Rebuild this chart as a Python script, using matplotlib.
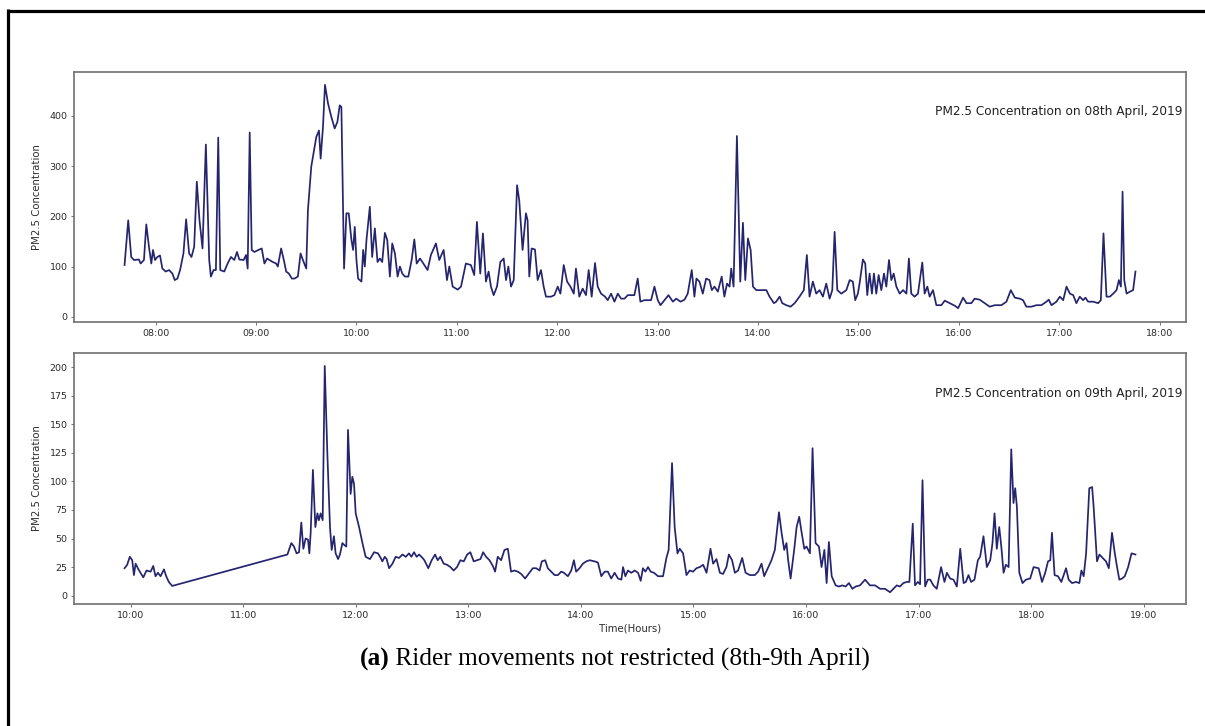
import numpy as np
import pandas as pd
import matplotlib
matplotlib.use("Agg")
import matplotlib.pyplot as plt
import matplotlib.dates as mdates
from matplotlib.lines import Line2D

# PM2.5 readings, 8th April 2019 (time in minutes after midnight)
t08_min = [
    461.4, 463.6, 465.4, 467.0, 470.0, 471.0, 473.0, 474.4, 476.0, 477.4, 478.4, 479.6,
    481.0, 482.6, 484.0, 486.0, 488.0, 490.0, 491.4, 493.0, 494.6, 496.6, 498.2, 500.0,
    501.4, 503.0, 504.6, 506.2, 508.0, 510.0, 512.0, 513.0, 514.6, 516.0, 517.4, 518.6,
    521.0, 523.0, 525.0, 527.0, 528.6, 530.0, 532.6, 534.0, 535.0, 536.2, 537.4, 539.0,
    541.4, 543.4, 545.0, 546.6, 548.0, 550.0, 552.0, 553.0, 555.0, 556.6, 558.0, 559.6,
    561.4, 563.0, 565.0, 566.6, 568.0, 570.0, 571.0, 573.0, 576.0, 577.6, 578.6, 580.0,
    581.2, 583.0, 585.0, 587.0, 588.6, 590.0, 591.0, 592.6, 594.0, 595.4, 597.0, 598.0,
    599.0, 600.0, 601.0, 603.0, 604.0, 605.0, 606.0, 608.0, 609.4, 611.0, 612.6, 614.0,
    615.4, 617.0, 618.4, 620.0, 621.4, 623.0, 624.6, 626.0, 627.4, 629.0, 631.0, 633.0,
    634.6, 636.0, 638.0, 640.0, 642.5, 644.5, 647.5, 649.5, 652.1, 654.1, 655.5, 657.5,
    660.5, 662.5, 665.4, 668.4, 670.4, 672.0, 674.0, 675.6, 677.4, 679.0, 680.4, 682.0,
    684.0, 686.0, 688.0, 689.4, 690.8, 692.4, 694.0, 696.0, 697.3, 699.3, 701.3, 702.3,
    703.3, 704.7, 706.7, 708.3, 710.3, 711.9, 713.3, 716.3, 718.3, 720.3, 721.9, 723.9,
    725.9, 727.9, 729.9, 731.2, 733.2, 735.2, 737.2, 738.8, 740.6, 742.6, 744.2, 746.2,
    748.6, 750.2, 752.2, 754.2, 756.2, 758.2, 760.2, 762.2, 766.1, 768.1, 769.7, 772.1,
    776.1, 778.1, 780.1, 781.7, 784.1, 786.5, 789.1, 791.1, 793.7, 796.1, 798.0, 800.4,
    802.0, 803.2, 805.0, 807.0, 809.0, 811.0, 812.4, 814.0, 816.0, 818.3, 819.9, 821.5,
    823.0, 824.0, 825.4, 827.4, 829.4, 831.0, 832.4, 834.0, 835.6, 837.0, 839.0, 842.0,
    845.0, 846.9, 849.5, 850.9, 852.9, 854.5, 856.9, 859.5, 861.9, 864.8, 867.4, 869.2,
    870.8, 872.8, 874.8, 876.8, 878.8, 880.8, 882.8, 884.4, 885.8, 887.4, 889.8, 892.8,
    894.8, 896.7, 898.1, 899.7, 900.7, 902.7, 904.1, 905.3, 906.7, 908.1, 909.3, 910.7,
    912.1, 913.7, 915.3, 916.7, 918.3, 919.7, 921.1, 922.7, 924.7, 926.7, 928.7, 930.2,
    931.6, 933.6, 935.6, 938.2, 939.6, 941.2, 942.6, 944.6, 946.6, 949.6, 951.6, 954.6,
    957.6, 959.6, 962.6, 964.6, 967.5, 969.5, 972.5, 975.5, 978.5, 981.5, 985.5, 988.5,
    991.1, 993.5, 996.5, 998.4, 1000.4, 1003.4, 1006.4, 1009.4, 1012.4, 1013.8, 1015.4, 1018.4,
    1020.4, 1022.4, 1024.4, 1026.4, 1028.4, 1030.3, 1032.3, 1034.3, 1035.7, 1037.3, 1040.3, 1043.3,
    1044.9, 1046.5, 1048.3, 1050.3, 1052.3, 1054.3, 1055.7, 1056.9, 1057.9, 1058.9, 1060.3, 1062.3,
    1064.2, 1065.6,
]
pm_08 = [
    103, 192, 119, 113, 114, 106, 113, 184, 139, 106, 133, 113,
    119, 122, 96, 90, 93, 86, 73, 76, 93, 126, 194, 126,
    119, 139, 269, 192, 136, 343, 113, 80, 93, 93, 357, 93,
    90, 106, 119, 113, 129, 114, 113, 123, 96, 367, 133, 129,
    133, 136, 106, 116, 113, 109, 106, 100, 136, 113, 90, 86,
    76, 76, 80, 126, 113, 96, 212, 299, 358, 371, 315, 378,
    462, 425, 398, 375, 388, 421, 418, 96, 206, 206, 153, 133,
    179, 113, 76, 70, 133, 100, 153, 219, 119, 176, 109, 116,
    109, 167, 153, 80, 146, 126, 80, 100, 86, 80, 80, 113,
    154, 106, 116, 106, 93, 123, 146, 113, 133, 73, 100, 60,
    54, 60, 106, 103, 83, 189, 86, 166, 70, 90, 60, 43,
    60, 109, 116, 73, 100, 60, 73, 262, 232, 133, 206, 192,
    80, 136, 134, 73, 93, 60, 40, 40, 43, 60, 46, 103,
    70, 60, 46, 96, 40, 56, 43, 93, 40, 107, 60, 46,
    40, 33, 46, 30, 46, 36, 36, 43, 43, 76, 30, 33,
    33, 60, 33, 23, 33, 43, 30, 36, 30, 34, 46, 93,
    40, 76, 70, 46, 76, 73, 53, 60, 50, 80, 40, 66,
    60, 96, 60, 360, 70, 187, 73, 156, 133, 60, 53, 53,
    53, 40, 27, 30, 40, 27, 23, 20, 27, 40, 53, 123,
    40, 70, 46, 53, 40, 66, 36, 53, 169, 53, 46, 53,
    73, 70, 33, 46, 66, 114, 106, 43, 86, 46, 86, 46,
    83, 53, 86, 60, 113, 73, 86, 60, 46, 53, 46, 116,
    46, 40, 46, 108, 46, 60, 40, 53, 23, 23, 32, 27,
    22, 17, 38, 27, 27, 36, 34, 27, 20, 23, 23, 30,
    53, 38, 36, 33, 20, 20, 23, 23, 30, 34, 23, 30,
    40, 33, 60, 46, 43, 27, 40, 33, 38, 30, 30, 27,
    33, 166, 40, 40, 46, 53, 73, 60, 249, 73, 46, 50,
    53, 90,
]

# PM2.5 readings, 9th April 2019 (time in minutes after midnight)
t09_min = [
    596.8, 598.2, 599.6, 600.9, 601.8, 602.7, 603.9, 605.3, 606.8, 608.5, 610.7, 612.1,
    613.3, 614.6, 616.0, 617.8, 619.0, 620.4, 622.2, 683.6, 685.7, 687.1, 688.5, 689.8,
    691.0, 692.1, 693.3, 694.6, 695.3, 696.0, 697.2, 698.5, 699.6, 700.4, 701.3, 702.4,
    703.5, 704.9, 706.3, 707.2, 708.4, 709.3, 710.6, 711.6, 712.9, 714.1, 715.0, 715.9,
    717.3, 718.2, 719.1, 720.0, 721.8, 723.6, 725.3, 727.6, 729.8, 731.9, 733.3, 734.2,
    735.5, 736.5, 737.8, 739.6, 741.3, 743.1, 744.9, 746.7, 748.4, 749.7, 751.1, 752.5,
    753.8, 755.6, 756.6, 758.7, 760.5, 762.3, 763.7, 765.1, 766.9, 768.7, 770.5, 772.2,
    774.0, 775.8, 777.6, 779.4, 781.1, 782.9, 784.7, 786.5, 787.9, 789.5, 791.3, 793.1,
    794.3, 795.7, 797.5, 799.3, 801.1, 802.8, 804.6, 806.4, 808.2, 810.3, 812.6, 814.4,
    816.2, 818.0, 819.2, 821.0, 822.4, 824.2, 826.0, 827.8, 829.5, 831.0, 833.1, 834.9,
    836.3, 837.5, 839.3, 841.1, 842.9, 844.7, 847.3, 849.1, 850.9, 852.7, 854.4, 856.2,
    858.0, 859.8, 861.6, 862.5, 863.7, 865.1, 866.9, 868.7, 870.5, 871.9, 873.1, 874.4,
    875.8, 877.2, 879.0, 881.1, 883.8, 885.6, 886.8, 888.6, 890.0, 891.5, 892.7, 894.5,
    896.3, 898.0, 899.8, 901.6, 903.4, 905.2, 907.0, 909.1, 910.5, 912.3, 914.1, 915.8,
    917.6, 918.9, 920.6, 922.1, 923.8, 926.0, 927.8, 930.1, 932.7, 934.5, 936.3, 937.7,
    939.9, 941.6, 943.4, 945.6, 947.0, 948.4, 949.6, 950.5, 951.8, 953.7, 955.0, 956.4,
    957.7, 959.1, 960.3, 962.1, 963.5, 965.1, 966.9, 968.3, 969.8, 971.0, 972.2, 973.7,
    975.8, 977.6, 979.4, 981.1, 982.9, 984.7, 986.5, 988.8, 991.5, 994.1, 996.8, 999.5,
    1002.1, 1004.8, 1006.6, 1008.4, 1010.1, 1011.9, 1013.7, 1015.1, 1016.9, 1018.1, 1019.6, 1020.8,
    1022.1, 1023.5, 1024.9, 1026.2, 1027.9, 1029.7, 1032.0, 1033.8, 1035.1, 1036.8, 1038.6, 1040.4,
    1042.2, 1044.0, 1045.2, 1046.6, 1048.0, 1049.8, 1051.6, 1052.8, 1054.6, 1056.4, 1058.2, 1059.4,
    1060.5, 1061.7, 1063.0, 1064.1, 1065.3, 1066.5, 1068.0, 1069.4, 1070.6, 1071.5, 1072.4, 1073.7,
    1075.4, 1077.2, 1079.5, 1081.3, 1084.0, 1085.8, 1087.5, 1089.0, 1090.2, 1091.1, 1092.5, 1094.3,
    1096.1, 1098.6, 1100.0, 1101.8, 1103.9, 1105.7, 1106.8, 1108.0, 1109.3, 1111.0, 1112.5, 1113.3,
    1115.1, 1116.4, 1118.1, 1119.9, 1121.4, 1123.1, 1124.6, 1125.8, 1127.0, 1128.5, 1129.9, 1131.7,
    1133.5, 1135.6,
]
pm_09 = [
    24, 27, 34, 31, 18, 28, 24, 20, 16, 22, 21, 26,
    17, 20, 17, 23, 17, 12, 8.5, 36, 46, 43, 37, 38,
    64, 41, 50, 49, 37, 55, 110, 60, 72, 66, 72, 66,
    201, 124, 60, 40, 52, 37, 32, 36, 46, 44, 43, 145,
    89, 104, 98, 72, 60, 46, 34, 32, 38, 37, 33, 30,
    34, 32, 24, 28, 34, 33, 36, 34, 37, 34, 38, 34,
    36, 33, 31, 24, 31, 36, 31, 34, 28, 27, 25, 22,
    25, 31, 30, 36, 38, 30, 31, 32, 38, 34, 31, 26,
    21, 34, 31, 40, 41, 21, 22, 21, 19, 15, 20, 24,
    24, 22, 30, 31, 24, 21, 18, 18, 21, 20, 17, 22,
    31, 21, 24, 28, 30, 31, 30, 29, 17, 21, 21, 15,
    20, 15, 14, 25, 17, 22, 20, 22, 20, 13, 24, 21,
    25, 21, 20, 17, 17, 33, 40, 116, 60, 37, 41, 37,
    18, 22, 21, 24, 25, 27, 20, 41, 28, 32, 20, 19,
    25, 36, 31, 20, 22, 33, 20, 18, 18, 21, 28, 17,
    25, 31, 40, 73, 55, 40, 46, 31, 15, 40, 60, 69,
    55, 41, 43, 37, 129, 46, 43, 25, 40, 11, 47, 17,
    9, 8, 9, 8, 11, 6, 8, 9, 14, 9, 9, 6,
    6, 3, 6, 9, 8, 11, 12, 12, 63, 9, 12, 10,
    101, 8, 14, 14, 9, 6, 25, 12, 20, 15, 14, 8,
    41, 11, 12, 18, 12, 14, 31, 34, 52, 25, 31, 46,
    72, 41, 60, 43, 20, 27, 25, 128, 81, 94, 78, 20,
    11, 14, 15, 25, 24, 12, 20, 30, 31, 55, 18, 17,
    12, 24, 14, 11, 12, 11, 22, 17, 37, 94, 95, 78,
    30, 36, 33, 30, 24, 55, 37, 25, 14, 15, 17, 25,
    37, 36,
]

panel_days = ["2019-04-08", "2019-04-09"]
panel_titles = ["PM2.5 Concentration on 08th April, 2019",
                "PM2.5 Concentration on 09th April, 2019"]
panel_ticks = [[0, 100, 200, 300, 400], [0, 25, 50, 75, 100, 125, 150, 175, 200]]
panel_ylims = [(-10.5, 487.5), (-7.3, 212.3)]
caption_bold = "(a)"
caption_text = " Rider movements not restricted (8th-9th April)"

LINE = "#25256f"
SPINE = "#707070"
TXT = "#2b2b2b"

W, H = 1205, 726
fig = plt.figure(figsize=(W / 100, H / 100), dpi=100)
fig.patch.set_facecolor("white")

# frame around the figure (top and left edges)
fig.add_artist(Line2D([7.5 / W, 1.0], [1 - 10.5 / H, 1 - 10.5 / H],
                      transform=fig.transFigure, color="black", lw=2.3,
                      solid_capstyle="butt"))
fig.add_artist(Line2D([7.8 / W, 7.8 / W], [0.0, 1 - 9.0 / H],
                      transform=fig.transFigure, color="black", lw=2.3,
                      solid_capstyle="butt"))

boxes = [(74, 72, 1186, 322), (74, 353, 1186, 604)]
series = [(t08_min, pm_08), (t09_min, pm_09)]

for i, ((x0, y0, x1, y1), (tm, pm)) in enumerate(zip(boxes, series)):
    ax = fig.add_axes([x0 / W, 1 - y1 / H, (x1 - x0) / W, (y1 - y0) / H])
    base = pd.Timestamp(panel_days[i])
    times = base + pd.to_timedelta(np.asarray(tm), unit="m")
    ax.plot(times, pm, color=LINE, lw=1.25)
    ax.margins(x=0.05)
    ax.set_ylim(*panel_ylims[i])
    ax.set_yticks(panel_ticks[i])
    ax.xaxis.set_major_locator(mdates.HourLocator(tz=None))
    ax.xaxis.set_major_formatter(mdates.DateFormatter("%H:%M"))
    for s in ax.spines.values():
        s.set_color(SPINE)
        s.set_linewidth(1.2)
    ax.tick_params(axis="both", labelsize=6.8, length=2.5, width=0.7,
                   color=SPINE, labelcolor=TXT, pad=2.2)
    ax.set_ylabel("PM2.5 Concentration", fontsize=7.3, color=TXT)
    ax.yaxis.set_label_coords(-32 / (x1 - x0), 0.5)
    ax.text(0.997, 0.84, panel_titles[i], transform=ax.transAxes,
            ha="right", va="center", fontsize=8.7, color="#222222")
    if i == 1:
        ax.set_xlabel("Time(Hours)", fontsize=7.3, color=TXT, labelpad=3)

# caption below the panels: bold label followed by regular text
cap_y = 1 - 659 / H
fig.canvas.draw()
r = fig.canvas.get_renderer()
tb = fig.text(0, cap_y, caption_bold, fontsize=18.3, fontweight="bold",
              family="Liberation Serif", va="center", ha="left")
tr = fig.text(0, cap_y, caption_text, fontsize=18.3,
              family="Liberation Serif", va="center", ha="left")
wb = tb.get_window_extent(r).width
wr = tr.get_window_extent(r).width
left = 615 - (wb + wr) / 2
tb.set_x(left / W)
tr.set_x((left + wb) / W)

fig.savefig("out.png", dpi=100, facecolor="white")
